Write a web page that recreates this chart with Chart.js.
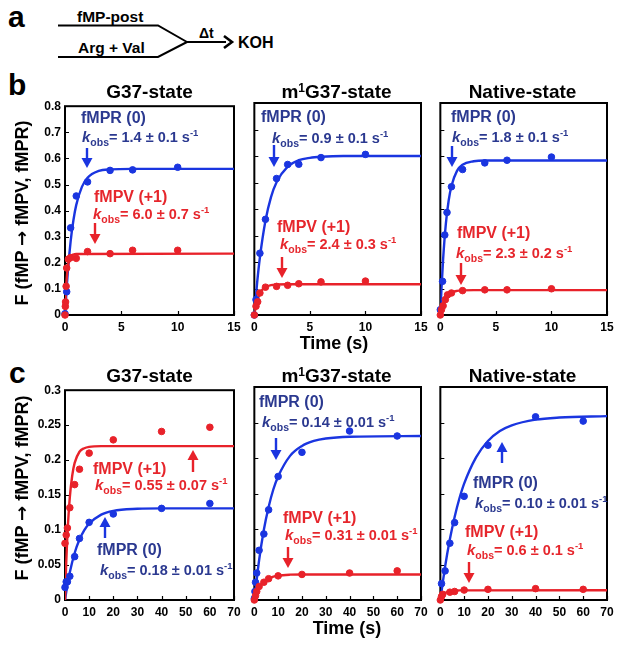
<!DOCTYPE html>
<html>
<head>
<meta charset="utf-8">
<script src="https://cdn.jsdelivr.net/npm/chart.js@4.4.1/dist/chart.umd.min.js"></script>
<style>
  body { margin: 0; width: 624px; height: 650px; position: relative; overflow: hidden; background: #fff;
         font-family: "Liberation Sans", Arial, sans-serif; font-weight: bold; color: #000; }
  canvas { position: absolute; }
  .t { position: absolute; white-space: nowrap; line-height: 18px; }
  .lab { font-size: 16px; }
  .kob { font-size: 14.5px; }
  .kob i { font-size: 15px; }
  .kob sub { font-size: 10.5px; vertical-align: -4px; line-height: 0; }
  .kob sup { font-size: 9.5px; vertical-align: 6px; line-height: 0; }
  .blue { color: #2b3990; }
  .red { color: #e6262c; }
  .ttl { position: absolute; font-size: 19px; text-align: center; line-height: 22px; }
  .xt { position: absolute; font-size: 18px; text-align: center; line-height: 22px; width: 200px; }
  .yt { position: absolute; font-size: 18px; text-align: center; line-height: 22px; width: 260px; transform: rotate(-90deg); }
  .yt .arr { font-family: "DejaVu Sans", sans-serif; font-size: 18px; }
  svg { position: absolute; left: 0; top: 0; }
</style>
</head>
<body>
<svg id="ovl" width="624" height="650"></svg>
<script>
// ---- measured points, [time (s), fraction] ----
// panel b, G37-state
const b1R = [[0,0.005],[0.15,0.089],[0.5,0.334],[1,0.456],[2,0.51],[4,0.554],[6,0.556],[10,0.566]];
const b1V = [[0,0],[0.03,0.033],[0.05,0.05],[0.1,0.11],[0.15,0.18],[0.3,0.214],[0.5,0.22],[1,0.217],[2,0.243],[4,0.235],[6,0.248],[10,0.248]];
// panel b, m1G37-state
const b2R = [[0,0],[0.15,0.058],[0.5,0.233],[1,0.361],[2,0.515],[3,0.568],[4,0.569],[6,0.594],[10,0.606]];
const b2V = [[0,0],[0.15,0.033],[0.3,0.05],[0.5,0.083],[1,0.105],[2,0.108],[3,0.112],[4,0.118],[6,0.125],[10,0.128]];
// panel b, Native-state
const b3R = [[0,0.02],[0.2,0.127],[0.4,0.302],[0.6,0.387],[1,0.484],[2,0.549],[4,0.574],[6,0.584],[10,0.596]];
const b3V = [[0,0],[0.1,0.02],[0.25,0.035],[0.45,0.058],[0.65,0.076],[1,0.083],[2,0.092],[4,0.095],[6,0.095],[10,0.099]];
// panel c
const c1R = [[0,0.018],[0.5,0.026],[1,0.026],[2,0.034],[4,0.062],[6,0.088],[10,0.111],[20,0.123],[40,0.131],[60,0.138]];
const c1V = [[0,0.081],[0.5,0.093],[1,0.103],[2,0.132],[4,0.165],[6,0.187],[10,0.21],[20,0.229],[40,0.241],[60,0.247]];
const c2R = [[0,0.002],[0.25,0.012],[0.5,0.025],[1,0.038],[2,0.07],[4,0.093],[6,0.127],[10,0.174],[20,0.208],[40,0.238],[60,0.231]];
const c2V = [[0,0],[0.5,0.006],[1,0.012],[2,0.019],[4,0.025],[6,0.03],[10,0.034],[20,0.036],[40,0.038],[60,0.041]];
const c3R = [[0.5,0.023],[2,0.041],[4,0.08],[6,0.109],[10,0.146],[20,0.218],[40,0.258],[60,0.252]];
const c3V = [[0,0],[0.5,0.005],[1,0.008],[4,0.011],[6,0.012],[10,0.014],[20,0.015],[40,0.016],[60,0.015]];

// ---- fitted curves ----
const b1Rfit = [[0,0],[0.25,0.165],[0.5,0.282],[0.75,0.364],[1,0.422],[1.5,0.491],[2,0.526],[3,0.552],[4,0.558],[6,0.56],[15,0.56]];
const b1Vfit = [[0,0],[0.1,0.106],[0.2,0.164],[0.3,0.196],[0.5,0.223],[0.75,0.232],[1,0.234],[15,0.235]];
const b2Rfit = [[0,0],[0.25,0.121],[0.5,0.217],[1,0.356],[1.5,0.445],[2,0.501],[3,0.56],[4,0.584],[5,0.593],[6,0.597],[8,0.6],[15,0.6]];
const b2Vfit = [[0,0],[0.1,0.025],[0.25,0.052],[0.5,0.081],[0.75,0.097],[1,0.105],[1.5,0.113],[2,0.115],[3,0.116],[15,0.116]];
const b3Rfit = [[0,0],[0.1,0.096],[0.25,0.211],[0.5,0.346],[0.75,0.432],[1,0.487],[1.5,0.544],[2,0.567],[3,0.58],[4,0.583],[15,0.583]];
const b3Vfit = [[0,0],[0.1,0.019],[0.25,0.041],[0.5,0.064],[0.75,0.077],[1,0.085],[1.5,0.091],[2,0.093],[3,0.094],[15,0.094]];
const c1Rfit = [[0,0],[1,0.0216],[2,0.0396],[4,0.0672],[6,0.0864],[8,0.1],[10,0.109],[15,0.122],[20,0.1275],[30,0.1304],[40,0.131],[70,0.131]];
const c1Vfit = [[0,0],[0.5,0.053],[1,0.093],[2,0.147],[3,0.178],[4,0.196],[6,0.212],[8,0.217],[10,0.219],[15,0.22],[70,0.22]];
const c2Rfit = [[0,0],[2,0.056],[4,0.099],[6,0.131],[8,0.156],[10,0.174],[15,0.203],[20,0.217],[25,0.224],[30,0.2275],[40,0.23],[70,0.231]];
const c2Vfit = [[0,0],[1,0.0096],[2,0.0166],[4,0.0256],[6,0.0304],[8,0.033],[10,0.0344],[15,0.0357],[20,0.036],[70,0.036]];
const c3Rfit = [[0,0],[2,0.047],[4,0.0855],[6,0.117],[8,0.143],[10,0.164],[15,0.201],[20,0.224],[25,0.238],[30,0.246],[40,0.254],[50,0.257],[70,0.259]];
const c3Vfit = [[0,0],[1,0.0062],[2,0.0096],[3,0.0114],[5,0.013],[8,0.0136],[70,0.0137]];

const titles = ['G37-state', 'm<sup style="font-size:12px;vertical-align:6px;line-height:0">1</sup>G37-state', 'Native-state'];
const kobsB_R = ['1.4 ± 0.1', '0.9 ± 0.1', '1.8 ± 0.1'];
const kobsB_V = ['6.0 ± 0.7', '2.4 ± 0.3', '2.3 ± 0.2'];
const kobsC_R = ['0.18 ± 0.01', '0.14 ± 0.01', '0.10 ± 0.01'];
const kobsC_V = ['0.55 ± 0.07', '0.31 ± 0.01', '0.6 ± 0.1'];

const BLUE = '#1a35e0';
const RED = '#e8222a';

const colLeft = [65, 252, 438];
const plotW = 169;
const rows = [
  { top: 103, h: 212, xmax: 15, xstep: 5, ymax: 0.8, ystep: 0.1,
    sets: [[b1R, b1V, b1Rfit, b1Vfit], [b2R, b2V, b2Rfit, b2Vfit], [b3R, b3V, b3Rfit, b3Vfit]] },
  { top: 387, h: 213, xmax: 70, xstep: 10, ymax: 0.3, ystep: 0.05,
    sets: [[c1R, c1V, c1Rfit, c1Vfit], [c2R, c2V, c2Rfit, c2Vfit], [c3R, c3V, c3Rfit, c3Vfit]] }
];

const toXY = arr => arr.map(p => ({ x: p[0], y: p[1] }));

const frameTicks = {
  id: 'frameTicks',
  beforeDatasetsDraw(chart) {
    const { ctx, chartArea: a, scales } = chart;
    ctx.save();
    ctx.strokeStyle = '#000';
    ctx.lineWidth = 1.2;
    ctx.beginPath();
    scales.y.ticks.forEach(t => {
      const y = Math.round(scales.y.getPixelForValue(t.value)) + 0.5;
      ctx.moveTo(a.left, y); ctx.lineTo(a.left + 4, y);
    });
    scales.x.ticks.forEach(t => {
      const x = Math.round(scales.x.getPixelForValue(t.value)) + 0.5;
      ctx.moveTo(x, a.bottom); ctx.lineTo(x, a.bottom - 4);
    });
    ctx.stroke();
    ctx.lineWidth = 2;
    ctx.strokeRect(a.left, a.top, a.right - a.left, a.bottom - a.top);
    ctx.restore();
  }
};

function makePanel(row, col) {
  const r = rows[row];
  const padL = col === 0 ? 40 : 6, padT = 8, padR = 12, axH = 22;
  const cv = document.createElement('canvas');
  cv.width = padL + plotW + padR;
  cv.height = padT + r.h + axH;
  cv.style.left = (colLeft[col] - padL) + 'px';
  cv.style.top = (r.top - padT) + 'px';
  document.body.appendChild(cv);
  const [ptsR, ptsV, fitR, fitV] = r.sets[col];
  new Chart(cv, {
    type: 'scatter',
    data: {
      datasets: [
        { data: toXY(ptsV), backgroundColor: RED, borderColor: RED, pointRadius: 3.3, pointHoverRadius: 3.3, clip: false },
        { data: toXY(ptsR), backgroundColor: BLUE, borderColor: BLUE, pointRadius: 3.3, pointHoverRadius: 3.3, clip: false },
        { data: toXY(fitV), showLine: true, borderColor: RED, borderWidth: 2.4, pointRadius: 0, cubicInterpolationMode: 'monotone' },
        { data: toXY(fitR), showLine: true, borderColor: BLUE, borderWidth: 2.4, pointRadius: 0, cubicInterpolationMode: 'monotone' }
      ]
    },
    options: {
      responsive: false,
      animation: false,
      devicePixelRatio: 1,
      layout: { padding: { left: 0, right: padR, top: padT, bottom: 0 } },
      plugins: { legend: { display: false }, tooltip: { enabled: false } },
      scales: {
        x: {
          type: 'linear', min: 0, max: r.xmax,
          grid: { display: false, drawTicks: false }, border: { display: false },
          ticks: { stepSize: r.xstep, padding: 5, color: '#000', font: { family: 'Liberation Sans', weight: 'bold', size: 12 } },
          afterFit: s => { s.height = axH; }
        },
        y: {
          min: 0, max: r.ymax,
          grid: { display: false, drawTicks: false }, border: { display: false },
          ticks: { display: col === 0, stepSize: r.ystep, padding: 4, color: '#000',
                   font: { family: 'Liberation Sans', weight: 'bold', size: 12 },
                   callback: v => String(+v.toFixed(2)) },
          afterFit: s => { s.width = padL; }
        }
      }
    },
    plugins: [frameTicks]
  });
  // panel title
  const t = document.createElement('div');
  t.className = 'ttl';
  t.style.left = colLeft[col] + 'px'; t.style.width = plotW + 'px';
  t.style.top = (r.top - 22) + 'px';
  t.innerHTML = titles[col];
  document.body.appendChild(t);
}

for (let row = 0; row < 2; row++) for (let col = 0; col < 3; col++) makePanel(row, col);

// ---- text and arrows ----
function addText(cls, html, left, cy) {
  const d = document.createElement('div');
  d.className = 't ' + cls;
  d.style.left = left + 'px';
  d.style.top = (cy - 9) + 'px';
  d.innerHTML = html;
  document.body.appendChild(d);
}
const kob = v => '<i>k</i><sub>obs</sub>= ' + v + ' s<sup>-1</sup>';

const svg = document.getElementById('ovl');
const NS = 'http://www.w3.org/2000/svg';
function svgEl(tag, attrs) {
  const e = document.createElementNS(NS, tag);
  for (const k in attrs) e.setAttribute(k, attrs[k]);
  svg.appendChild(e);
  return e;
}
function arrow(x, yBase, yTip, color) {
  const dir = yTip > yBase ? 1 : -1;
  const headL = 10, headW = 5.5;
  svgEl('line', { x1: x, y1: yBase, x2: x, y2: yTip - dir * headL, stroke: color, 'stroke-width': 2.4 });
  svgEl('polygon', { points: `${x - headW},${yTip - dir * headL} ${x + headW},${yTip - dir * headL} ${x},${yTip}`, fill: color });
}

// panel b annotations
addText('lab blue', 'fMPR (0)', 81, 118); addText('kob blue', kob(kobsB_R[0]), 82, 137); arrow(87, 148, 168, BLUE);
addText('lab red', 'fMPV (+1)', 94, 197); addText('kob red', kob(kobsB_V[0]), 93, 214); arrow(95, 223, 244, RED);
addText('lab blue', 'fMPR (0)', 261, 117); addText('kob blue', kob(kobsB_R[1]), 272, 138); arrow(274, 145, 167, BLUE);
addText('lab red', 'fMPV (+1)', 277, 227); addText('kob red', kob(kobsB_V[1]), 280, 244); arrow(282, 257, 278, RED);
addText('lab blue', 'fMPR (0)', 451, 117); addText('kob blue', kob(kobsB_R[2]), 452, 137); arrow(452, 146, 167, BLUE);
addText('lab red', 'fMPV (+1)', 457, 233); addText('kob red', kob(kobsB_V[2]), 456, 253); arrow(461, 263, 285, RED);
// panel c annotations
addText('lab red', 'fMPV (+1)', 93, 469); addText('kob red', kob(kobsC_V[0]), 95, 485); arrow(193, 472, 450, RED);
addText('lab blue', 'fMPR (0)', 97, 550); addText('kob blue', kob(kobsC_R[0]), 100, 570); arrow(105, 538, 517, BLUE);
addText('lab blue', 'fMPR (0)', 259, 402); addText('kob blue', kob(kobsC_R[1]), 262, 422); arrow(276, 438, 460, BLUE);
addText('lab red', 'fMPV (+1)', 283, 518); addText('kob red', kob(kobsC_V[1]), 285, 535); arrow(288, 547, 568, RED);
addText('lab blue', 'fMPR (0)', 473, 483); addText('kob blue', kob(kobsC_R[2]), 475, 503); arrow(502, 463, 442, BLUE);
addText('lab red', 'fMPV (+1)', 465, 532); addText('kob red', kob(kobsC_V[2]), 467, 550); arrow(469, 562, 583, RED);

// axis titles
function addDiv(cls, html, style) {
  const d = document.createElement('div');
  d.className = cls; d.innerHTML = html;
  Object.assign(d.style, style);
  document.body.appendChild(d);
}
const yTitle = 'F (fMP <span class="arr">→</span> fMPV, fMPR)';
addDiv('xt', 'Time (s)', { left: (334 - 100) + 'px', top: (343 - 11) + 'px' });
addDiv('xt', 'Time (s)', { left: (347 - 100) + 'px', top: (628 - 11) + 'px' });
addDiv('yt', yTitle, { left: (22 - 130) + 'px', top: (213 - 11) + 'px' });
addDiv('yt', yTitle, { left: (22 - 130) + 'px', top: (488 - 11) + 'px' });

// panel letters and scheme a
const fontAttr = { 'font-family': 'Liberation Sans, Arial, sans-serif', 'font-weight': 'bold' };
[['a', 8, 27], ['b', 8, 95], ['c', 9, 383]].forEach(([s, x, y]) => {
  const e = svgEl('text', Object.assign({ x, y, 'font-size': 30 }, fontAttr)); e.textContent = s;
});
svgEl('polyline', { points: '58,25.5 158,25.5 187,42', fill: 'none', stroke: '#000', 'stroke-width': 2 });
svgEl('polyline', { points: '58,57 158,57 187,42', fill: 'none', stroke: '#000', 'stroke-width': 2 });
svgEl('line', { x1: 186, y1: 42, x2: 226, y2: 42, stroke: '#000', 'stroke-width': 2.2 });
svgEl('polyline', { points: '224,36 232,42 224,48', fill: 'none', stroke: '#000', 'stroke-width': 2.6 });
[['fMP-post', 77, 22, 15.5], ['Arg + Val', 78, 53, 15.5], ['Δt', 199, 38, 14], ['KOH', 238, 48, 16]].forEach(([s, x, y, fs]) => {
  const e = svgEl('text', Object.assign({ x, y, 'font-size': fs }, fontAttr)); e.textContent = s;
});
</script>
</body>
</html>
